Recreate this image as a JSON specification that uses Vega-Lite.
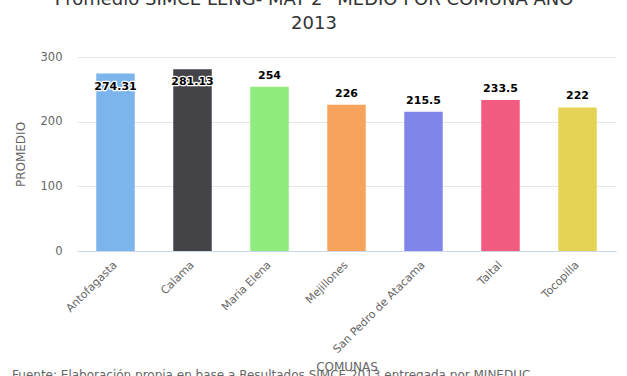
{
  "$schema": "https://vega.github.io/schema/vega-lite/v6.json",
  "padding": {"left": 12, "top": -9, "right": 11, "bottom": 0},
  "background": "white",
  "title": {
    "text": ["Promedio SIMCE LENG- MAT 2° MEDIO POR COMUNA AÑO", "2013"],
    "font": "DejaVu Sans",
    "fontSize": 18,
    "fontWeight": "normal",
    "color": "#333333",
    "anchor": "middle",
    "frame": "bounds",
    "lineHeight": 24,
    "offset": 18
  },
  "config": {"view": {"stroke": null}, "font": "DejaVu Sans"},
  "vconcat": [
    {
      "width": 539,
      "height": 194,
      "title": {
        "text": "Fuente: Elaboración propia en base a Resultados SIMCE 2013 entregada por MINEDUC",
        "orient": "bottom",
        "anchor": "start",
        "frame": "bounds",
        "font": "DejaVu Sans",
        "fontSize": 12,
        "fontWeight": "normal",
        "color": "#666666",
        "offset": -3,
        "dx": -2
      },
      "data": {
        "values": [
          {"comuna": "Antofagasta", "promedio": 274.31},
          {"comuna": "Calama", "promedio": 281.13},
          {"comuna": "Maria Elena", "promedio": 254},
          {"comuna": "Mejillones", "promedio": 226},
          {"comuna": "San Pedro de Atacama", "promedio": 215.5},
          {"comuna": "Taltal", "promedio": 233.5},
          {"comuna": "Tocopilla", "promedio": 222}
        ]
      },
      "encoding": {
        "x": {
          "field": "comuna",
          "type": "nominal",
          "sort": null,
          "scale": {"paddingInner": 0.5, "paddingOuter": 0.25},
          "axis": {
            "title": "COMUNAS",
            "titleFont": "DejaVu Sans",
            "titleFontSize": 12,
            "titleFontWeight": "normal",
            "titleColor": "#666666",
            "titlePadding": 7,
            "labelAngle": -45,
            "labelAlign": "right",
            "labelBaseline": "middle",
            "labelFont": "DejaVu Sans",
            "labelFontSize": 11,
            "labelColor": "#666666",
            "labelPadding": 12,
            "ticks": false,
            "domainColor": "#ccd6eb",
            "grid": false
          }
        },
        "y": {
          "field": "promedio",
          "type": "quantitative",
          "scale": {"domain": [0, 300]},
          "axis": {
            "title": "PROMEDIO",
            "titleFont": "DejaVu Sans",
            "titleFontSize": 12,
            "titleFontWeight": "normal",
            "titleColor": "#666666",
            "titlePadding": 13,
            "values": [0, 100, 200, 300],
            "grid": true,
            "gridColor": "#e6e6e6",
            "domain": false,
            "ticks": false,
            "labelFont": "DejaVu Sans",
            "labelFontSize": 11.5,
            "labelColor": "#666666",
            "labelPadding": 15
          }
        }
      },
      "layer": [
        {
          "mark": {"type": "bar"},
          "encoding": {
            "color": {
              "field": "comuna",
              "type": "nominal",
              "sort": null,
              "legend": null,
              "scale": {
                "domain": ["Antofagasta", "Calama", "Maria Elena", "Mejillones", "San Pedro de Atacama", "Taltal", "Tocopilla"],
                "range": ["#7cb5ec", "#434348", "#90ed7d", "#f7a35c", "#8085e9", "#f15c80", "#e4d354"]
              }
            }
          }
        },
        {
          "transform": [{"filter": "datum.promedio <= 270"}],
          "mark": {"type": "text", "font": "DejaVu Sans", "fontSize": 11, "fontWeight": "bold", "baseline": "middle", "dy": -11, "stroke": "white", "strokeWidth": 2.5, "strokeJoin": "round", "fill": "white"},
          "encoding": {"text": {"field": "promedio", "type": "nominal"}}
        },
        {
          "transform": [{"filter": "datum.promedio <= 270"}],
          "mark": {"type": "text", "font": "DejaVu Sans", "fontSize": 11, "fontWeight": "bold", "baseline": "middle", "dy": -11, "fill": "#000000"},
          "encoding": {"text": {"field": "promedio", "type": "nominal"}}
        },
        {
          "transform": [{"filter": "datum.promedio > 270"}],
          "mark": {"type": "text", "font": "DejaVu Sans", "fontSize": 11, "fontWeight": "bold", "baseline": "middle", "dy": 13, "stroke": "white", "strokeWidth": 2.5, "strokeJoin": "round", "fill": "white"},
          "encoding": {"text": {"field": "promedio", "type": "nominal"}}
        },
        {
          "transform": [{"filter": "datum.promedio > 270"}],
          "mark": {"type": "text", "font": "DejaVu Sans", "fontSize": 11, "fontWeight": "bold", "baseline": "middle", "dy": 13, "fill": "#000000"},
          "encoding": {"text": {"field": "promedio", "type": "nominal"}}
        }
      ]
    }
  ]
}
